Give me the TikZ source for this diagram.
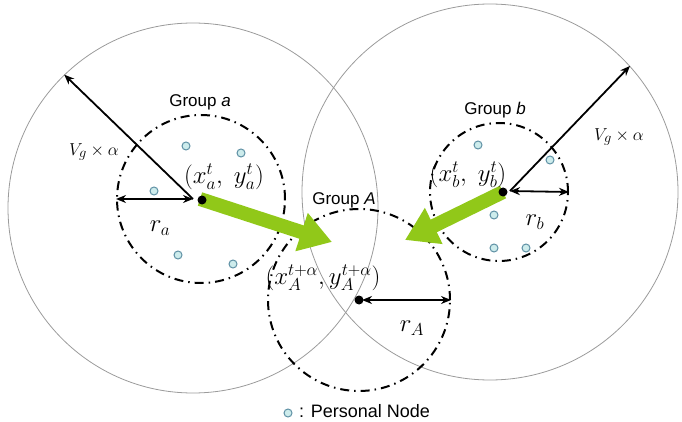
\documentclass[tikz,border=0pt]{standalone}
\usepackage{fontspec}
\setsansfont{Liberation Sans}
\usetikzlibrary{arrows.meta}
\definecolor{mvgreen}{RGB}{145,200,25}
\definecolor{pnfill}{RGB}{205,236,236}
\definecolor{pndraw}{RGB}{95,145,165}
\definecolor{rangegray}{RGB}{155,155,155}
\tikzset{
  rangec/.style={circle, draw=rangegray, line width=0.8pt, inner sep=0pt},
  groupc/.style={circle, draw=black, line width=2pt, inner sep=0pt,
    dash pattern=on 9pt off 5pt on 1.5pt off 5pt},
  pnode/.style={circle, draw=pndraw, fill=pnfill, line width=1pt, inner sep=0pt, minimum size=8pt},
  cdot/.style={circle, fill=black, inner sep=0pt, minimum size=9pt},
  radarrow/.style={line width=1.8pt, {Stealth[length=10pt,width=8pt]}-{Stealth[length=10pt,width=8pt]}},
  vgarrow/.style={line width=1.8pt, -{Stealth[length=10pt,width=8pt]}},
  movearrow/.style={draw=mvgreen, line width=14pt, -{Triangle[length=32pt,width=38pt]}, mvgreen},
  grouplbl/.style={inner sep=0pt, font=\sffamily\fontsize{17}{19}\selectfont},
  legendlbl/.style={inner sep=0pt, font=\sffamily\fontsize{18}{20}\selectfont},
  mathlbl/.style={inner sep=0pt, font=\fontsize{24}{26}\selectfont},
  vglbl/.style={inner sep=0pt, font=\fontsize{19}{21}\selectfont},
}
\begin{document}
\begin{tikzpicture}[x=1pt,y=-1pt]
\useasboundingbox (0,0) rectangle (682,422);
% range circles
\node[rangec, minimum size=370pt] (ra) at (193,208) {};
\node[rangec, minimum size=376pt] (rb) at (490,192) {};
% group circles
\node[groupc, minimum size=168pt] (ga) at (201,199) {};
\node[groupc, minimum size=138pt] (gb) at (499,192) {};
\node[groupc, minimum size=182pt] (gA) at (359,300) {};
% movement arrows
\coordinate (ta) at (332,242);
\coordinate (tb) at (405,240);
\coordinate (sa) at (200,199);
\coordinate (sb) at (503,192);
\draw[movearrow] (sa) -- (ta);
\draw[movearrow] (sb) -- (tb);
% center dots
\node[cdot] (ca) at (202,200) {};
\node[cdot] (cb) at (503,192) {};
\node[cdot] (cA) at (359,300) {};
\coordinate (pa) at (193,199);
\coordinate (pb) at (510,191);
\coordinate (pA) at (362,300);
% radius arrows
\draw[vgarrow] (pa) -- (ra.134.3);
\draw[vgarrow] (pb) -- (rb.42.9);
\draw[radarrow] (pa) -- (ga.west);
\draw[radarrow] (pb) -- (gb.east);
\draw[radarrow] (pA) -- (gA.east);
% personal nodes
\node[pnode] (a1) at (186,146) {};
\node[pnode] (a2) at (241,153) {};
\node[pnode] (a3) at (154,191) {};
\node[pnode] (a4) at (178,255) {};
\node[pnode] (a5) at (233,264) {};
\node[pnode] (b1) at (478,145) {};
\node[pnode] (b2) at (550,160) {};
\node[pnode] (b3) at (494,215) {};
\node[pnode] (b4) at (494,248) {};
\node[pnode] (b5) at (526,248) {};
% labels
\node[grouplbl] (lga) at (200,102) {Group \textit{a}};
\node[grouplbl] (lgb) at (495,110) {Group \textit{b}};
\node[grouplbl] (lgA) at (344,200) {Group \textit{A}};
\node[vglbl] (lva) at (94,152) {$V_g \times \alpha$};
\node[vglbl] (lvb) at (619,137) {$V_g \times \alpha$};
\node[mathlbl] (lxa) at (224,177) {$(x_a^t,\; y_a^t)$};
\node[mathlbl] (lxb) at (468,175) {$(x_b^t,\; y_b^t)$};
\node[mathlbl] (lxA) at (323,278) {$(x_A^{t+\alpha}, y_A^{t+\alpha})$};
\node[mathlbl] (lra) at (160,228) {$r_a$};
\node[mathlbl] (lrb) at (535,222) {$r_b$};
\node[mathlbl] (lrA) at (412,328) {$r_A$};
% legend
\node[pnode] (lgd) at (288,413) {};
\node[legendlbl, anchor=west] (lgdt) at (299,411) {: Personal Node};
\end{tikzpicture}
\end{document}
